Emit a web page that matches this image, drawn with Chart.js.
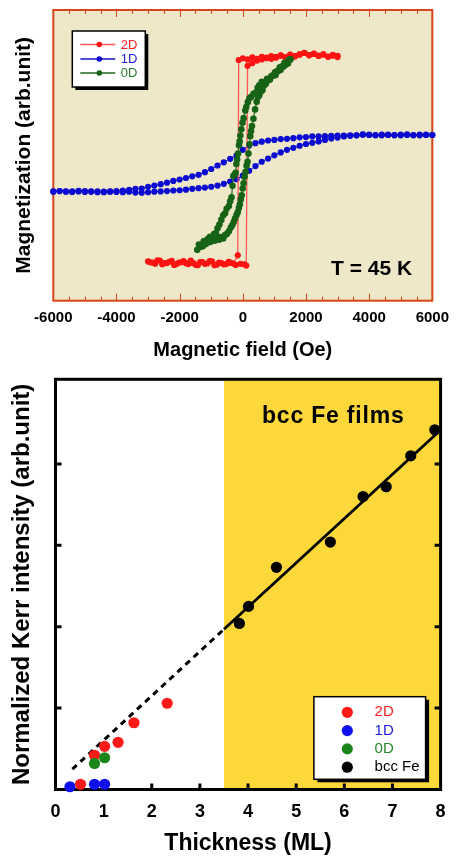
<!DOCTYPE html>
<html><head><meta charset="utf-8">
<script src="https://cdn.jsdelivr.net/npm/chart.js@4"></script>
<style>
html,body{margin:0;padding:0;background:#fff;width:457px;height:860px;overflow:hidden;}
#c1{position:absolute;left:0;top:0;}
#c2{position:absolute;left:0;top:370px;}
</style></head><body>
<canvas id="c1" width="457" height="370"></canvas>
<canvas id="c2" width="457" height="490"></canvas>
<script>
// ---------- Top chart data (hysteresis loops, T = 45 K) ----------
const loopSeries = ['2D', '1D', '0D'];
const fieldTickValues = [-6000, -4000, -2000, 0, 2000, 4000, 6000];

const redField = [3000,2850,2700,2550,2400,2250,2100,1950,1800,1650,1500,1350,1200,1050,900,750,600,450,300,150,0,-130,
  -160,
  -300,-450,-600,-750,-900,-1050,-1200,-1350,-1500,-1650,-1800,-1950,-2100,-2250,-2400,-2550,-2700,-2850,-3000,
  -2925,-2775,-2625,-2475,-2325,-2175,-2025,-1875,-1725,-1575,-1425,-1275,-1125,-975,-825,-675,-525,-375,-225,-75,
  50,110,
  150,300,450,
  600,750,900,1050,1200,1350,1500,1650,1800,1950,2100,2250,2400,2550,2700,2850,3000];
const redMag = [84.2,84.6,83.9,84.8,84.3,85.0,84.5,85.3,84.6,84.0,84.7,83.8,84.4,83.6,84.1,83.4,83.9,83.2,83.7,83.0,83.4,82.8,
  15.6,
  12.8,13.4,12.5,13.1,12.2,13.6,12.7,13.3,12.4,13.8,12.9,13.2,12.6,13.7,13.0,12.5,13.9,13.1,13.5,
  13.2,12.7,13.8,12.9,13.4,12.3,13.1,13.6,12.6,13.0,12.2,13.3,12.8,13.5,12.4,12.9,12.6,13.0,12.3,12.7,
  12.5,12.1,
  80.8,81.7,82.6,
  83.0,83.6,83.2,83.9,84.3,83.7,84.5,84.1,84.8,85.2,84.4,84.9,84.2,84.6,84.0,84.3,83.8];

const blueField = [6000,5800,5600,5400,5200,5000,4800,4600,4400,4200,4000,3800,3600,3400,3200,3000,2800,2600,2400,2200,
  2000,1800,1600,1400,1200,1000,800,600,400,200,0,-200,-400,-600,-800,-1000,-1200,-1400,-1600,-1800,
  -2000,-2200,-2400,-2600,-2800,-3000,-3200,-3400,-3600,-3800,-4000,-4200,-4400,-4600,-4800,-5000,-5200,-5400,-5600,-5800,-6000,
  -6000,-5800,-5600,-5400,-5200,-5000,-4800,-4600,-4400,-4200,-4000,-3800,-3600,-3400,-3200,-3000,-2800,-2600,-2400,-2200,
  -2000,-1800,-1600,-1400,-1200,-1000,-800,-600,-400,-200,0,200,400,600,800,1000,1200,1400,1600,1800,
  2000,2200,2400,2600,2800,3000,3200,3400,3600,3800,4000,4200,4400,4600,4800,5000,5200,5400,5600,5800,6000];
const blueMag = [57.0,57.1,56.9,57.0,57.2,56.9,57.0,57.1,56.9,57.0,57.1,57.2,56.9,56.9,56.8,56.8,56.7,56.6,56.5,56.5,
  56.3,56.2,55.9,55.7,55.6,55.3,55.1,54.7,54.2,53.4,51.9,49.9,48.8,47.6,46.5,45.3,44.2,43.3,42.8,42.2,
  41.7,41.2,40.6,40.1,39.6,39.2,38.6,38.5,38.1,37.9,37.7,37.5,37.3,37.6,37.6,37.4,37.8,37.6,37.5,37.7,37.6,
  37.5,37.7,37.6,37.4,37.6,37.7,37.5,37.3,37.5,37.6,37.4,37.3,37.5,37.2,37.1,37.3,37.5,37.6,37.7,37.9,
  38.0,38.2,38.5,38.7,38.9,39.2,39.6,40.2,41.0,41.8,43.0,44.7,46.3,47.8,48.9,50.0,51.0,51.9,52.6,53.3,
  53.9,54.3,54.8,55.3,55.8,56.1,56.5,56.7,56.9,57.1,57.0,56.9,57.1,57.0,56.9,57.1,57.0,56.9,57.1,57.0,57.0];

const greenField = [1504,1430,1349,1280,1194,1110,1039,950,860,770,680,600,522,470,419,340,264,210,160,110,78,26,-10,-47,-78,-100,-120,-150,-180,-205,
  -225,-260,-300,-326,-357,-400,-440,-512,-560,-620,-680,-740,-800,-850,-910,-980,-1040,-1100,-1180,-1260,-1340,-1442,
  -1390,-1310,-1240,-1170,-1100,-1030,-960,-890,-820,-750,-680,-620,-560,-500,-440,-380,-330,-285,-245,-200,-160,-125,-95,-65,-35,-5,
  26,57,88,120,150,180,210,235,260,290,336,388,439,480,522,575,625,680,729,780,832,900,956,1020,1090,1170,1245,1320,1400,1460,1504];
const greenMag = [83.0,81.6,81.1,80.5,79.4,78.9,77.6,77.4,76.1,76.3,75.2,75.3,74.1,73.2,71.6,71.2,70.1,69.6,68.3,66.6,65.4,62.8,61.2,59.0,56.8,54.8,53.5,50.6,48.6,47.0,
  44.0,43.4,42.9,39.5,35.6,34.2,32.6,31.6,30.1,29.4,27.8,26.2,24.9,23.3,22.9,21.4,22.0,20.1,20.6,18.8,18.9,17.5,
  19.3,18.6,20.4,19.5,21.3,20.2,21.6,20.6,22.0,21.0,21.9,21.4,22.6,23.0,23.9,25.2,26.0,27.1,28.3,29.5,30.4,31.9,33.1,34.8,36.3,38.6,
  40.4,42.6,44.3,46.4,47.8,50.6,53.8,56.6,58.4,60.1,62.6,65.8,68.4,70.1,70.7,72.0,72.5,74.1,74.6,75.7,76.0,77.2,77.5,78.6,79.0,80.3,80.6,81.8,82.0,82.9,83.0];

// ---------- Bottom chart data (Kerr intensity vs thickness) ----------
const kerrSeries = ['2D', '1D', '0D', 'bcc Fe'];
const thicknessTickValues = [0, 1, 2, 3, 4, 5, 6, 7, 8];
const kerrTickValues = [1, 2, 3, 4];
const thick2D = [0.52, 0.81, 1.02, 1.30, 1.63, 2.32];
const kerr2D  = [0.064, 0.42, 0.53, 0.58, 0.82, 1.06];
const thick1D = [0.30, 0.81, 1.02];
const kerr1D  = [0.034, 0.064, 0.064];
const thick0D = [0.81, 1.02];
const kerr0D  = [0.32, 0.39];
const thickFe = [3.82, 4.01, 4.59, 5.71, 6.39, 6.87, 7.38, 7.88];
const kerrFe  = [2.04, 2.25, 2.73, 3.04, 3.60, 3.72, 4.10, 4.42];
const fitSolidThick = [3.5, 7.95];
const fitSolidKerr  = [1.97, 4.39];
const fitDashThick  = [0.35, 3.5];
const fitDashKerr   = [0.25, 1.97];
const bccStart = 3.5;

// ---------- helpers ----------
const FONT = '"Liberation Sans", Arial, Helvetica, sans-serif';
Chart.defaults.font.family = FONT;
Chart.defaults.color = '#000';
const toPts = (xs, ys) => xs.map((x, i) => ({ x: x, y: ys[i] }));

const loopColors = {
  '2D': { line: 'rgba(255,80,80,0.95)', point: '#ff1212', text: '#ff2020' },
  '1D': { line: '#1515c8', point: '#0a0ad0', text: '#2020d0' },
  '0D': { line: '#1d6a1d', point: '#166316', text: '#2a7a2a' }
};
const kerrColors = { '2D': '#ff1a1a', '1D': '#1010ee', '0D': '#1a861a', 'bcc Fe': '#000000' };
const kerrText = { '2D': '#ff2020', '1D': '#1a1ad8', '0D': '#2a862a', 'bcc Fe': '#000000' };

// minor tick list for top chart (every 500 Oe)
const fieldMinor = [];
for (let v = -5500; v <= 5500; v += 500) fieldMinor.push(v);

// ---------- Top chart ----------
const hysDecor = {
  id: 'hysDecor',
  beforeDraw(chart) {
    const { ctx, chartArea: a } = chart;
    ctx.save();
    ctx.fillStyle = '#eee7c8';
    ctx.fillRect(a.left, a.top, a.width, a.height);
    ctx.restore();
  },
  beforeDatasetsDraw(chart) {
    const { ctx, chartArea: a, scales: { x } } = chart;
    ctx.save();
    ctx.strokeStyle = '#d8451b';
    ctx.lineWidth = 1;
    fieldMinor.forEach(v => {
      const px = Math.round(x.getPixelForValue(v)) + 0.5;
      const len = (v % 2000 === 0) ? 7 : 4;
      ctx.beginPath();
      ctx.moveTo(px, a.bottom); ctx.lineTo(px, a.bottom - len);
      ctx.moveTo(px, a.top); ctx.lineTo(px, a.top + len);
      ctx.stroke();
    });
    ctx.lineWidth = 2;
    ctx.strokeRect(a.left, a.top, a.width, a.height);
    ctx.restore();
  },
  afterDatasetsDraw(chart) {
    const { ctx, chartArea: a, scales: { x, y } } = chart;
    ctx.save();
    // legend box
    const bx = a.left + 19, by = a.top + 21, bw = 73, bh = 56;
    ctx.fillStyle = '#000';
    ctx.fillRect(bx + 3, by + 3, bw, bh);
    ctx.fillStyle = '#fff';
    ctx.fillRect(bx, by, bw, bh);
    ctx.strokeStyle = '#000';
    ctx.lineWidth = 1.5;
    ctx.strokeRect(bx, by, bw, bh);
    const rows = [13.5, 28, 42];
    loopSeries.forEach((name, i) => {
      const c = loopColors[name];
      const ry = by + rows[i];
      ctx.strokeStyle = c.line; ctx.lineWidth = 1.3;
      ctx.beginPath(); ctx.moveTo(bx + 8, ry); ctx.lineTo(bx + 43, ry); ctx.stroke();
      ctx.fillStyle = c.point;
      ctx.beginPath(); ctx.arc(bx + 27, ry, 2.8, 0, Math.PI * 2); ctx.fill();
      ctx.fillStyle = c.text;
      ctx.font = '13px ' + FONT;
      ctx.textAlign = 'left'; ctx.textBaseline = 'middle';
      ctx.fillText(name, bx + 48.5, ry + 0.5);
    });
    // temperature label
    ctx.fillStyle = '#000';
    ctx.font = 'bold 21px ' + FONT;
    ctx.textAlign = 'center'; ctx.textBaseline = 'middle';
    ctx.fillText('T = 45 K', x.getPixelForValue(4080), y.getPixelForValue(11));
    ctx.restore();
  }
};

new Chart(document.getElementById('c1'), {
  type: 'scatter',
  data: {
    datasets: [
      { label: '0D', data: toPts(greenField, greenMag), showLine: true, order: 0,
        borderColor: loopColors['0D'].line, borderWidth: 1.2,
        pointRadius: 3.3, pointBackgroundColor: loopColors['0D'].point, pointBorderWidth: 0, clip: false },
      { label: '2D', data: toPts(redField, redMag), showLine: true, order: 1,
        borderColor: loopColors['2D'].line, borderWidth: 1.3,
        pointRadius: 3.1, pointBackgroundColor: loopColors['2D'].point, pointBorderWidth: 0, clip: false },
      { label: '1D', data: toPts(blueField, blueMag), showLine: true, order: 2,
        borderColor: loopColors['1D'].line, borderWidth: 1,
        pointRadius: 3.1, pointBackgroundColor: loopColors['1D'].point, pointBorderWidth: 0, clip: false }
    ]
  },
  options: {
    responsive: false, animation: false, devicePixelRatio: 1,
    layout: { padding: { top: 10, right: 17, left: 0, bottom: 0 } },
    plugins: { legend: { display: false }, tooltip: { enabled: false } },
    elements: { line: { tension: 0 } },
    scales: {
      x: {
        type: 'linear', min: -6000, max: 6000,
        afterBuildTicks: s => { s.ticks = fieldTickValues.map(v => ({ value: v })); },
        ticks: { font: { size: 15, weight: 'bold' }, color: '#000', padding: 8, maxRotation: 0, autoSkip: false,
                 callback: v => String(v) },
        grid: { display: false, drawTicks: false },
        border: { display: false },
        title: { display: true, text: 'Magnetic field (Oe)', color: '#000',
                 font: { size: 20, weight: 'bold' }, padding: { top: 0, bottom: 8 } },
        afterFit: s => { s.height = 69.3; }
      },
      y: {
        type: 'linear', min: 0, max: 100,
        ticks: { display: false },
        grid: { display: false, drawTicks: false },
        border: { display: false },
        title: { display: true, text: 'Magnetization (arb.unit)', color: '#000',
                 font: { size: 21, weight: 'bold' }, padding: { top: 12, bottom: 0 } },
        afterFit: s => { s.width = 53.3; }
      }
    }
  },
  plugins: [hysDecor]
});

// ---------- Bottom chart ----------
const kerrDecor = {
  id: 'kerrDecor',
  beforeDatasetsDraw(chart) {
    const { ctx, chartArea: a, scales: { x, y } } = chart;
    ctx.save();
    ctx.fillStyle = '#fff';
    ctx.fillRect(a.left, a.top, a.width, a.height);
    const xs = x.getPixelForValue(bccStart);
    ctx.fillStyle = '#fcd83a';
    ctx.fillRect(xs, a.top, a.right - xs, a.height);
    ctx.strokeStyle = '#000';
    ctx.lineWidth = 3;
    thicknessTickValues.forEach(v => {
      if (v <= x.min || v >= x.max) return;
      const px = x.getPixelForValue(v);
      ctx.beginPath(); ctx.moveTo(px, a.bottom); ctx.lineTo(px, a.bottom - 6); ctx.stroke();
    });
    kerrTickValues.forEach(v => {
      const py = y.getPixelForValue(v);
      ctx.beginPath();
      ctx.moveTo(a.left, py); ctx.lineTo(a.left + 6, py);
      ctx.moveTo(a.right, py); ctx.lineTo(a.right - 6, py);
      ctx.stroke();
    });
    ctx.strokeRect(a.left, a.top, a.width, a.height);
    // label in yellow area
    ctx.fillStyle = '#000';
    ctx.font = 'bold 23px ' + FONT;
    try { ctx.letterSpacing = '0.8px'; } catch (e) {}
    ctx.textAlign = 'center'; ctx.textBaseline = 'middle';
    ctx.fillText('bcc Fe films', x.getPixelForValue(5.77), y.getPixelForValue(4.58));
    ctx.restore();
  },
  afterDatasetsDraw(chart) {
    const { ctx, chartArea: a } = chart;
    ctx.save();
    const bw = 111.7, bh = 82.6;
    const bx = a.right - 15 - bw, by = a.bottom - 10.2 - bh;
    ctx.fillStyle = '#000';
    ctx.fillRect(bx + 3.5, by + 3, bw, bh);
    ctx.fillStyle = '#fff';
    ctx.fillRect(bx, by, bw, bh);
    ctx.strokeStyle = '#000'; ctx.lineWidth = 1.5;
    ctx.strokeRect(bx, by, bw, bh);
    kerrSeries.forEach((name, i) => {
      const ry = by + 15.6 + i * 18.3;
      ctx.fillStyle = kerrColors[name];
      ctx.beginPath(); ctx.arc(bx + 33.4, ry, 5.6, 0, Math.PI * 2); ctx.fill();
      ctx.fillStyle = kerrText[name];
      ctx.font = '15px ' + FONT;
      ctx.textAlign = 'left'; ctx.textBaseline = 'middle';
      ctx.fillText(name, bx + 60.7, ry);
    });
    ctx.restore();
  }
};

const kerrPointDs = (name, xs, ys, order) => ({
  label: name, data: toPts(xs, ys), order: order,
  pointRadius: 5.6, pointBackgroundColor: kerrColors[name], pointBorderWidth: 0, clip: false
});

new Chart(document.getElementById('c2'), {
  type: 'scatter',
  data: {
    datasets: [
      kerrPointDs('0D', thick0D, kerr0D, 0),
      kerrPointDs('2D', thick2D, kerr2D, 1),
      kerrPointDs('1D', thick1D, kerr1D, 2),
      kerrPointDs('bcc Fe', thickFe, kerrFe, 3),
      { label: 'fit', data: toPts(fitSolidThick, fitSolidKerr), showLine: true, order: 4,
        borderColor: '#000', borderWidth: 2.8, pointRadius: 0 },
      { label: 'fit (extrapolated)', data: toPts(fitDashThick, fitDashKerr), showLine: true, order: 5,
        borderColor: '#000', borderWidth: 3, borderDash: [6, 5], pointRadius: 0 }
    ]
  },
  options: {
    responsive: false, animation: false, devicePixelRatio: 1,
    layout: { padding: { top: 9.3, right: 12, left: 0, bottom: 0 } },
    plugins: { legend: { display: false }, tooltip: { enabled: false } },
    scales: {
      x: {
        type: 'linear', min: 0, max: 8,
        afterBuildTicks: s => { s.ticks = thicknessTickValues.map(v => ({ value: v })); },
        ticks: { font: { size: 18, weight: 'bold' }, color: '#000', padding: 11.4, maxRotation: 0, autoSkip: false,
                 callback: v => String(v) },
        grid: { display: false, drawTicks: false },
        border: { display: false },
        title: { display: true, text: 'Thickness (ML)', color: '#000',
                 font: { size: 23, weight: 'bold' }, padding: { top: 0, bottom: 2.2 } },
        afterFit: s => { s.height = 70.5; }
      },
      y: {
        type: 'linear', min: 0, max: 5.04,
        ticks: { display: false },
        grid: { display: false, drawTicks: false },
        border: { display: false },
        title: { display: true, text: 'Normalized Kerr intensity (arb.unit)', color: '#000',
                 font: { size: 24, weight: 'bold' }, padding: { top: 8.1, bottom: 0 } },
        afterFit: s => { s.width = 55.5; }
      }
    }
  },
  plugins: [kerrDecor]
});
</script>
</body></html>
